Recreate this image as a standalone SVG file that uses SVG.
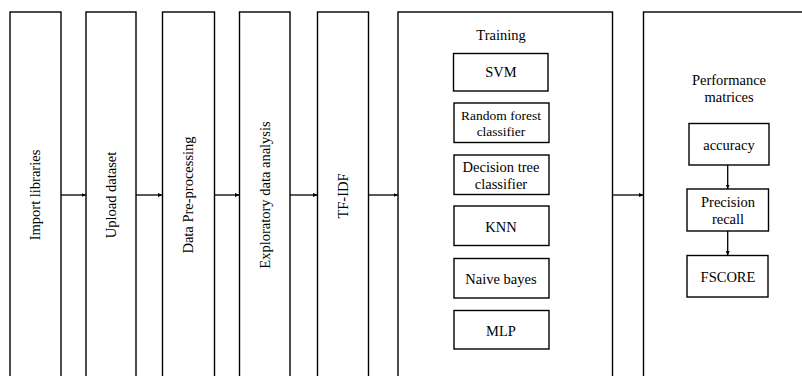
<svg xmlns="http://www.w3.org/2000/svg" width="802" height="376" viewBox="0 0 802 376">
<style>
.b{fill:#fff;stroke:#000;stroke-width:1.4}
.t{font-family:'Liberation Serif','DejaVu Serif',serif;font-size:14.5px;fill:#000;text-anchor:middle}
.s{font-family:'Liberation Serif','DejaVu Serif',serif;font-size:13.5px;fill:#000;text-anchor:middle}
.c{stroke:#000;stroke-width:1.3;fill:none;marker-end:url(#ah)}
</style>
<defs>
<marker id="ah" markerWidth="5" markerHeight="5" refX="4.5" refY="2.5" orient="auto" markerUnits="userSpaceOnUse">
<path d="M0,0.5 L4.5,2.5 L0,4.5 Z" fill="#000"/>
</marker>
</defs>
<rect width="802" height="376" fill="#fff"/>
<g id="n1"><rect class="b" x="10" y="12" width="51" height="370"/><text class="t" transform="translate(40,195) rotate(-90)">Import libraries</text></g>
<g id="n2"><rect class="b" x="86" y="12" width="50" height="370"/><text class="t" transform="translate(116,195) rotate(-90)">Upload dataset</text></g>
<g id="n3"><rect class="b" x="162.5" y="12" width="52" height="370"/><text class="t" transform="translate(193,195) rotate(-90)">Data Pre-processing</text></g>
<g id="n4"><rect class="b" x="239.5" y="12" width="50.5" height="370"/><text class="t" transform="translate(270,195) rotate(-90)">Exploratory data analysis</text></g>
<g id="n5"><rect class="b" x="317.5" y="12" width="51" height="370"/><text class="t" transform="translate(348,196) rotate(-90)">TF-IDF</text></g>
<g id="n6"><rect class="b" x="398" y="12" width="214.5" height="370"/><text class="t" x="501" y="40">Training</text></g>
<g id="svm"><rect class="b" x="453.5" y="53.5" width="94.5" height="37.5"/><text class="t" x="501" y="77">SVM</text></g>
<g id="rf"><rect class="b" x="454" y="103" width="95" height="39.5"/><text class="s" x="501" y="120">Random forest</text><text class="s" x="501" y="136">classifier</text></g>
<g id="dt"><rect class="b" x="454" y="155" width="95" height="39.5"/><text class="t" x="501" y="172">Decision tree</text><text class="t" x="501" y="189">classifier</text></g>
<g id="knn"><rect class="b" x="454" y="206" width="95" height="39.5"/><text class="t" x="501" y="232">KNN</text></g>
<g id="nb"><rect class="b" x="454" y="258.5" width="95" height="39.5"/><text class="t" x="501" y="284">Naive bayes</text></g>
<g id="mlp"><rect class="b" x="454" y="310.5" width="95" height="38.5"/><text class="t" x="501" y="336">MLP</text></g>
<g id="n7"><rect class="b" x="643.5" y="12" width="170" height="370"/><text class="t" x="729" y="85">Performance</text><text class="t" x="729" y="102">matrices</text></g>
<g id="acc"><rect class="b" x="689" y="123.5" width="80" height="41.5"/><text class="t" x="729" y="150">accuracy</text></g>
<g id="pr"><rect class="b" x="687" y="189" width="81.5" height="42"/><text class="t" x="728" y="207">Precision</text><text class="t" x="728" y="224">recall</text></g>
<g id="fs"><rect class="b" x="687" y="255.5" width="81" height="41.5"/><text class="t" x="728" y="282">FSCORE</text></g>
<g id="connectors">
<line class="c" x1="61" y1="195" x2="86" y2="195"/>
<line class="c" x1="136" y1="195" x2="162.5" y2="195"/>
<line class="c" x1="214.5" y1="195" x2="239.5" y2="195"/>
<line class="c" x1="290" y1="195" x2="317.5" y2="195"/>
<line class="c" x1="368.5" y1="195" x2="398" y2="195"/>
<line class="c" x1="612.5" y1="195" x2="643.5" y2="195"/>
<line class="c" x1="727.7" y1="165" x2="727.7" y2="189"/>
<line class="c" x1="727.7" y1="231" x2="727.7" y2="255.5"/>
</g>
</svg>
